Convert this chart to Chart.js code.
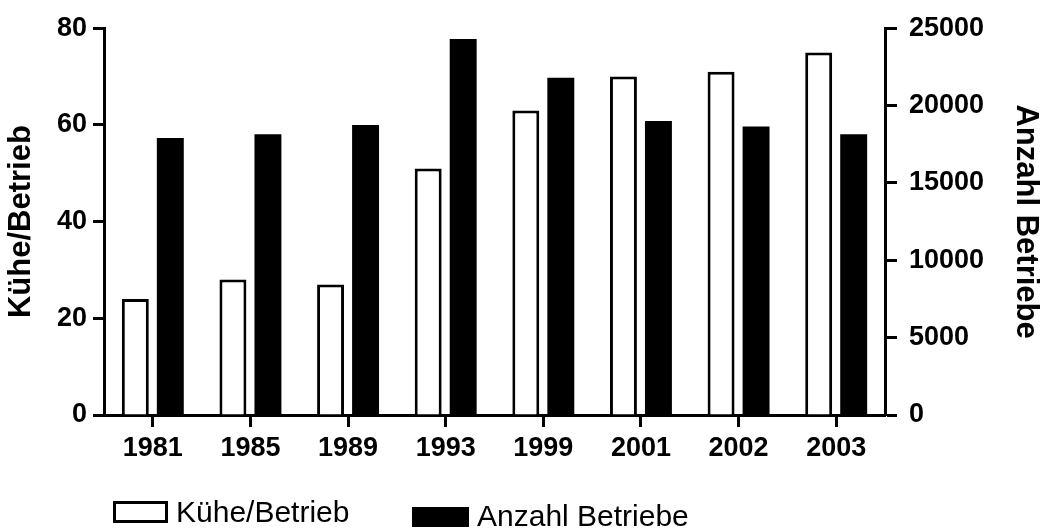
<!DOCTYPE html>
<html>
<head>
<meta charset="utf-8">
<script src="https://cdn.jsdelivr.net/npm/chart.js@4"></script>
<style>
  body { margin: 0; background: #fff; }
  #wrap { position: relative; width: 1047px; height: 531px; }
  .lg-box { position: absolute; box-sizing: border-box; }
  .lg-text { position: absolute; font: 30px "Liberation Sans", Arial, sans-serif; line-height: 30px; color: #000; white-space: nowrap; }
</style>
</head>
<body>
<div id="wrap">
  <canvas id="chart" width="1047" height="531"></canvas>
  <div class="lg-box" style="left:113px;top:501px;width:55px;height:22px;border:3px solid #000;background:#fff;"></div>
  <div class="lg-text" style="left:176px;top:497px;">Kühe/Betrieb</div>
  <div class="lg-box" style="left:412px;top:507px;width:57px;height:20px;background:#000;"></div>
  <div class="lg-text" style="left:477px;top:501px;">Anzahl Betriebe</div>
</div>
<script>
"use strict";

// Jahre (Kategorien)
const years = ["1981", "1985", "1989", "1993", "1999", "2001", "2002", "2003"];
// Kühe pro Betrieb (linke Achse)
const kuehe = [24, 28, 27, 51, 63, 70, 71, 75];
// Anzahl Betriebe (rechte Achse)
const betriebe = [17900, 18150, 18750, 24300, 21800, 19000, 18650, 18150];
// Achsenskalen
const leftTicks = [0, 20, 40, 60, 80];
const rightTicks = [0, 5000, 10000, 15000, 20000, 25000];

const boldFont = { family: "'Liberation Sans', Arial, sans-serif", size: 27, weight: "bold" };
const titleFont = { family: "'Liberation Sans', Arial, sans-serif", size: 31, weight: "bold" };

// gemeinsame Achsen-Optionen (schwarze Linie, Ticks nach aussen)
function axisStyle(tickLen) {
  return {
    grid: { display: true, drawOnChartArea: false, tickLength: tickLen, tickWidth: 3, tickColor: "#000", color: "#000" },
    border: { display: true, width: 3, color: "#000" }
  };
}

const ctx = document.getElementById("chart");

new Chart(ctx, {
  type: "bar",
  data: {
    labels: years,
    datasets: [{
      label: "Kühe/Betrieb",
      data: kuehe,
      yAxisID: "y",
      backgroundColor: "#fff",
      borderColor: "#000",
      borderWidth: 3,
      categoryPercentage: 0.717,
      barPercentage: 0.77
    }, {
      label: "Anzahl Betriebe",
      data: betriebe,
      yAxisID: "y1",
      backgroundColor: "#000",
      borderColor: "#000",
      borderWidth: 0,
      categoryPercentage: 0.717,
      barPercentage: 0.77
    }]
  },
  options: {
    responsive: false,
    animation: false,
    layout: { padding: { top: 25, bottom: 66, left: 0, right: 0 } },
    plugins: { legend: { display: false }, tooltip: { enabled: false } },
    scales: {
      x: {
        offset: true,
        ...axisStyle(12),
        grid: { display: true, drawOnChartArea: false, offset: false, tickLength: 12, tickWidth: 3, tickColor: "#000", color: "#000" },
        ticks: { color: "#000", font: boldFont, padding: 5, maxRotation: 0 },
        afterFit: s => { s.height = 50; }
      },
      y: {
        position: "left",
        min: 0,
        max: 80,
        ...axisStyle(11),
        afterBuildTicks: s => { s.ticks = leftTicks.map(v => ({ value: v })); },
        ticks: { color: "#000", font: boldFont, padding: 6, callback: v => String(v) },
        title: { display: true, text: "Kühe/Betrieb", color: "#000", font: titleFont, padding: { top: 3, bottom: 0 } },
        afterFit: s => { s.width = 104; }
      },
      y1: {
        position: "right",
        min: 0,
        max: 25000,
        ...axisStyle(12),
        afterBuildTicks: s => { s.ticks = rightTicks.map(v => ({ value: v })); },
        ticks: { color: "#000", font: boldFont, padding: 12, callback: v => String(v) },
        title: { display: true, text: "Anzahl Betriebe", color: "#000", font: titleFont, padding: { top: 3, bottom: 0 } },
        afterFit: s => { s.width = 162; }
      }
    }
  }
});
</script>
</body>
</html>
